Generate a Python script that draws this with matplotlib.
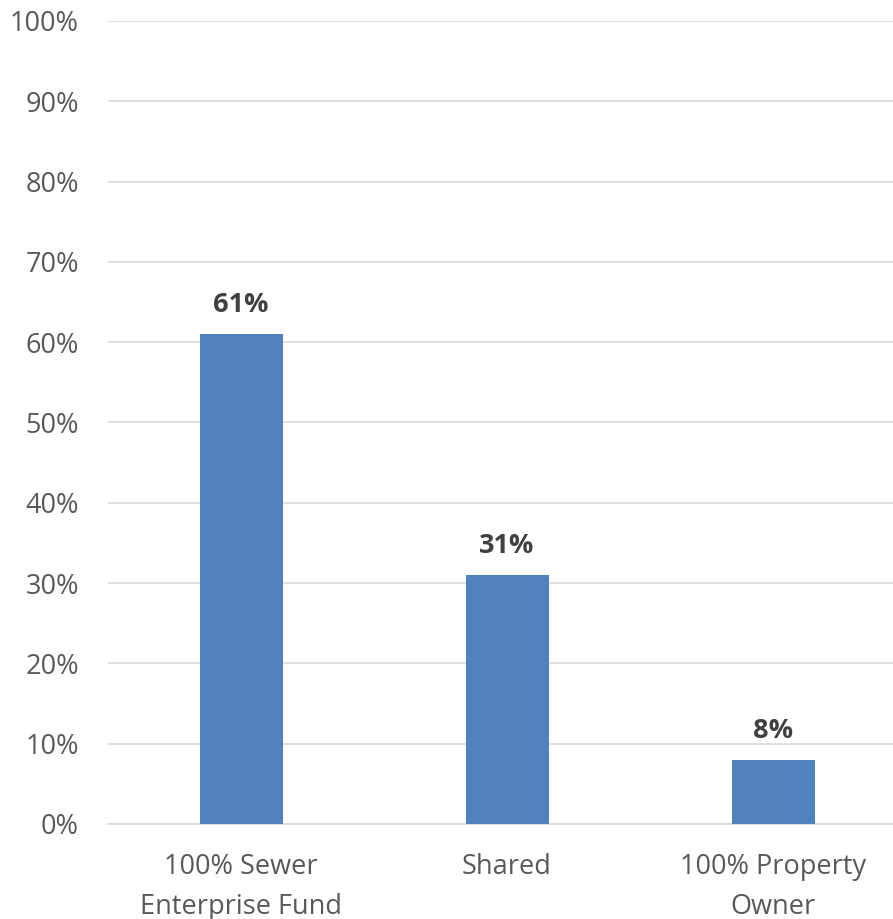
import matplotlib.pyplot as plt
from matplotlib.ticker import PercentFormatter

categories = ["100% Sewer\nEnterprise Fund", "Shared", "100% Property\nOwner"]
values = [61, 31, 8]
labels = ["61%", "31%", "8%"]

fig = plt.figure(figsize=(8.93, 9.19), dpi=100)
ax = fig.add_axes([0.121, 0.1034, 0.879, 0.8738])

x = range(len(categories))
bars = ax.bar(x, values, width=0.312, color="#4f81bd", zorder=3)

for b, lab in zip(bars, labels):
    ax.text(b.get_x() + b.get_width() / 2, b.get_height() + 2.0, lab,
            ha="center", va="bottom", fontsize=19.5, fontweight="bold",
            color="#404040", family="Open Sans")

ax.set_ylim(0, 100)
ax.set_xlim(-0.5, 2.451)
ax.set_yticks(range(0, 101, 10))
ax.yaxis.set_major_formatter(PercentFormatter(decimals=0))
ax.grid(axis="y", color="#d9d9d9", linewidth=1.2, zorder=0)
ax.set_xticks(list(x))
ax.set_xticklabels(categories, linespacing=1.55)

for s in ["top", "right", "left"]:
    ax.spines[s].set_visible(False)
ax.spines["bottom"].set_color("#d9d9d9")
ax.spines["bottom"].set_linewidth(1.2)
ax.tick_params(length=0, labelsize=19.5, labelcolor="#595959")
ax.tick_params(axis="x", pad=21)
ax.tick_params(axis="y", pad=21)
for t in ax.get_xticklabels() + ax.get_yticklabels():
    t.set_family("Open Sans")

fig.savefig("out.png", dpi=100)
